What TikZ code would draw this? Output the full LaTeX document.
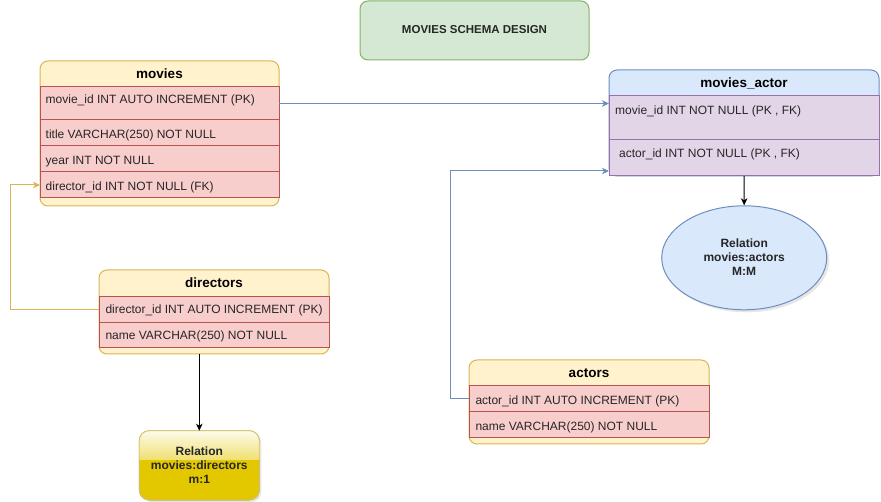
\documentclass[tikz,border=0pt]{standalone}
\usepackage{fontspec}
\setmainfont{Liberation Sans}
\usetikzlibrary{arrows.meta,shadows,calc,shapes.geometric}
\definecolor{hdrY}{HTML}{FFF2CC}
\definecolor{strY}{HTML}{D6B656}
\definecolor{rowR}{HTML}{F8CECC}
\definecolor{strR}{HTML}{B85450}
\definecolor{hdrB}{HTML}{DAE8FC}
\definecolor{strB}{HTML}{6C8EBF}
\definecolor{rowP}{HTML}{E1D5E7}
\definecolor{strP}{HTML}{9673A6}
\definecolor{grF}{HTML}{D5E8D4}
\definecolor{grS}{HTML}{82B366}
\definecolor{goldF}{HTML}{E3C800}
\definecolor{goldS}{HTML}{B09500}
\tikzset{
  box/.style={rectangle, inner sep=0pt, outer sep=0pt, anchor=north west, line width=1pt},
  tblY/.style={box, rounded corners=8pt, fill=hdrY, draw=strY},
  tblB/.style={box, rounded corners=8pt, fill=hdrB, draw=strB},
  rowRed/.style={box, fill=rowR, draw=strR},
  rowPur/.style={box, fill=rowP, draw=strP},
  hdrtxt/.style={font=\fontsize{13.5}{16}\selectfont\bfseries, inner sep=0pt},
  rowtxt/.style={font=\fontsize{12}{14}\selectfont, anchor=base west, inner sep=0pt, text=black!85},
  boldtxt/.style={font=\fontsize{12}{14}\selectfont\bfseries, align=center, inner sep=0pt, text=black!85},
  conn/.style={line width=1pt, -{Stealth[length=7pt,width=6.5pt,inset=2pt]}},
}
\begin{document}
\begin{tikzpicture}[x=1pt,y=-1pt]
\useasboundingbox (0,0) rectangle (881,502);

% title
\node[box, rounded corners=8pt, fill=grF, draw=grS, minimum width=229pt, minimum height=59pt] (title) at (360,1) {};
\node[boldtxt, font=\fontsize{11.5}{14}\selectfont\bfseries] (titletxt) at (474.5,29.5) {MOVIES SCHEMA DESIGN};

% movies
\node[tblY, minimum width=239pt, minimum height=145pt] (movies) at (40,61) {};
\node[hdrtxt] (moviesh) at (159.5,73.5) {movies};
\node[rowRed, minimum width=239pt, minimum height=33pt] (m1) at (40,87) {};
\node[rowRed, minimum width=239pt, minimum height=26pt] (m2) at (40,120) {};
\node[rowRed, minimum width=239pt, minimum height=26pt] (m3) at (40,146) {};
\node[rowRed, minimum width=239pt, minimum height=26pt] (m4) at (40,172) {};
\node[rowtxt] (m1t) at (45.5,103.6) {movie\_id INT AUTO INCREMENT (PK)};
\node[rowtxt] (m2t) at (45.5,138.3) {title VARCHAR(250) NOT NULL};
\node[rowtxt] (m3t) at (45.5,164.3) {year INT NOT NULL};
\node[rowtxt] (m4t) at (45.5,190.3) {director\_id INT NOT NULL (FK)};

% movies_actor
\node[tblB, minimum width=270pt, minimum height=106pt] (mact) at (609,70) {};
\node[hdrtxt] (macth) at (744,83.5) {movies\_actor};
\node[rowPur, minimum width=270pt, minimum height=44pt] (ma1) at (609,96) {};
\node[rowPur, minimum width=270pt, minimum height=36pt] (ma2) at (609,140) {};
\node[rowtxt] (ma1t) at (615,115) {movie\_id INT NOT NULL (PK , FK)};
\node[rowtxt] (ma2t) at (619,157.6) {actor\_id INT NOT NULL (PK , FK)};

% directors
\node[tblY, minimum width=230pt, minimum height=84pt] (directors) at (99,270) {};
\node[hdrtxt] (directorsh) at (214,283) {directors};
\node[rowRed, minimum width=230pt, minimum height=25.5pt] (d1) at (99,297) {};
\node[rowRed, minimum width=230pt, minimum height=25.5pt] (d2) at (99,322.5) {};
\node[rowtxt] (d1t) at (105.3,313.6) {director\_id INT AUTO INCREMENT (PK)};
\node[rowtxt] (d2t) at (105.3,340) {name VARCHAR(250) NOT NULL};

% actors
\node[tblY, minimum width=240pt, minimum height=84pt] (actors) at (469,360) {};
\node[hdrtxt] (actorsh) at (589,373.5) {actors};
\node[rowRed, minimum width=240pt, minimum height=26pt] (a1) at (469,386) {};
\node[rowRed, minimum width=240pt, minimum height=26pt] (a2) at (469,412) {};
\node[rowtxt] (a1t) at (475.3,404.3) {actor\_id INT AUTO INCREMENT (PK)};
\node[rowtxt] (a2t) at (475.3,430.3) {name VARCHAR(250) NOT NULL};

% relation ellipse
\node[ellipse, inner sep=0pt, line width=1pt, fill=hdrB, draw=strB, minimum width=165pt, minimum height=104pt,
      drop shadow={shadow xshift=2.5pt, shadow yshift=-2.5pt, opacity=0.2}] (ell) at (744.2,257.8) {};
\node[boldtxt] (elltxt) at (744.2,257.5) {Relation\\movies:actors\\M:M};

% relation box (glass)
\node[box, rounded corners=10pt, fill=goldF, draw=goldS!70, minimum width=120pt, minimum height=69.3pt,
      drop shadow={shadow xshift=2pt, shadow yshift=-2pt, opacity=0.2}] (rel) at (139.3,430.7) {};
\begin{scope}
  \clip[rounded corners=10pt] (rel.north west) rectangle (rel.south east);
  \shade[top color=white!92!goldF, bottom color=white!45!goldF] (rel.north west) rectangle ($(rel.north east)+(0,28.5)$);
\end{scope}
\draw[goldS!55, line width=0.8pt, rounded corners=10pt] (rel.north west) rectangle (rel.south east);
\node[boldtxt] (reltxt) at (199.3,465) {Relation\\movies:directors\\m:1};

% connectors
\coordinate (maIn) at ($(ma2.south west)+(0,-5)$);
\draw[conn, strB] (m1.east) -- (m1.east -| ma1.west);
\draw[conn, strB] (a1.west) -- ++(-19,0) |- (maIn);
\draw[conn, strY] (d1.west) -- ++(-89,0) |- (m4.west);
\draw[conn, black] (ma2.south) -- (ell.north);
\draw[conn, black] (rel.north |- directors.south) -- (rel.north);
\end{tikzpicture}
\end{document}
